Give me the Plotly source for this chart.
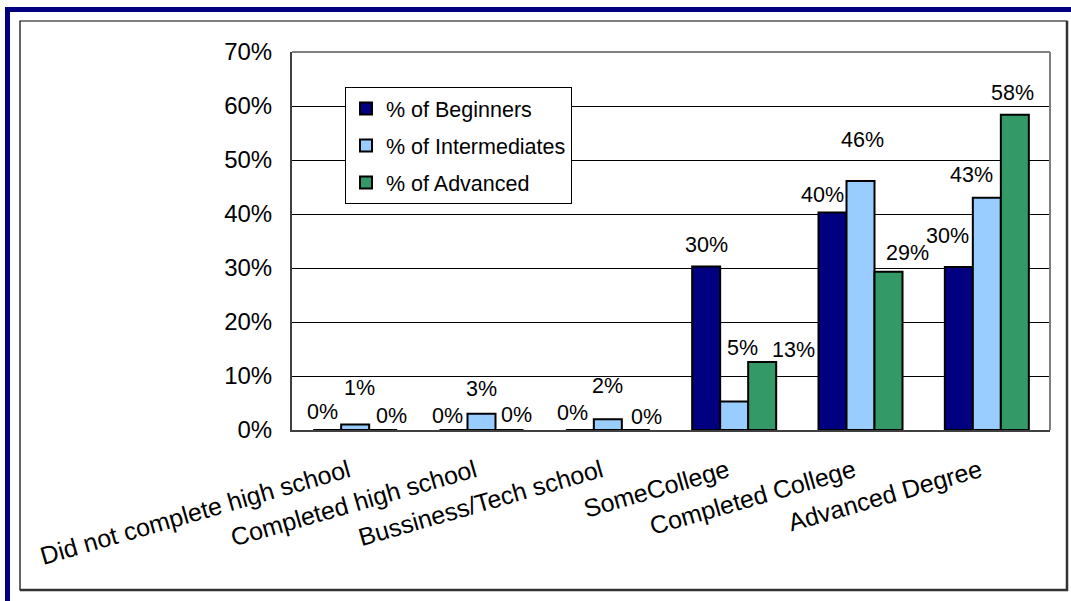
import plotly.graph_objects as go

categories = ["Did not complete high school", "Completed high school", "Bussiness/Tech school",
              "SomeCollege", "Completed College", "Advanced Degree"]
series_names = ["% of Beginners", "% of Intermediates", "% of Advanced"]
beginners = [0.0, 0.0, 0.0, 0.303, 0.403, 0.302]
intermediates = [0.01, 0.03, 0.02, 0.053, 0.461, 0.43]
advanced = [0.0, 0.0, 0.0, 0.126, 0.293, 0.584]
y_ticks = [0, 0.1, 0.2, 0.3, 0.4, 0.5, 0.6, 0.7]

# styling
colors = ["#000080", "#99CCFF", "#339966"]
FONT = "Arial, Liberation Sans, sans-serif"
W, H = 1071, 601
ML, MR, MT, MB = 292, 21, 52, 171
# data-label placement (pixel offsets, mimicking the original's label layout)
bar_px = [-28, 0, 28]
label_dx = [[-5, -6, -7, 0, -10, -11], [4, 0, 0, 8, 2, -15], [8, 7, 11, 31, 19, -2]]
label_dy = [[18, 14, 17, 21, 17, 31], [37, 25, 33, 53, 41, 23], [14, 15, 13, 12, 19, 22]]

pw = W - ML - MR
ph = H - MT - MB


def px_x(px):
    return (px - ML) / pw


def px_y(py):
    return (H - MB - py) / ph


fig = go.Figure()
all_series = [beginners, intermediates, advanced]
for i, (name, vals) in enumerate(zip(series_names, all_series)):
    fig.add_trace(go.Bar(
        x=categories, y=vals, name=name, legendgroup=name,
        marker=dict(color=colors[i], line=dict(color="#000000", width=2)),
        hoverinfo="skip",
    ))

annotations = []
for i, vals in enumerate(all_series):
    for j, (c, v) in enumerate(zip(categories, vals)):
        annotations.append(dict(
            x=c, y=v, xref="x", yref="y", text=f"{v:.0%}", showarrow=False,
            xshift=bar_px[i] + label_dx[i][j], yshift=label_dy[i][j],
            yanchor="middle", xanchor="center",
            font=dict(family=FONT, size=21.5, color="#000000"),
        ))

shapes = [
    # navy outer band (top & left)
    dict(type="rect", xref="paper", yref="paper", x0=px_x(5), x1=px_x(1071), y0=px_y(7), y1=px_y(12),
         fillcolor="#000080", line=dict(width=0), layer="above"),
    dict(type="rect", xref="paper", yref="paper", x0=px_x(5), x1=px_x(10), y0=px_y(7), y1=px_y(601),
         fillcolor="#000080", line=dict(width=0), layer="above"),
    # inner black frame
    dict(type="rect", xref="paper", yref="paper", x0=px_x(20), x1=px_x(1067), y0=px_y(21), y1=px_y(590),
         line=dict(color="#000000", width=1.2), layer="above"),
    dict(type="line", xref="paper", yref="paper", x0=px_x(1067), x1=px_x(1067), y0=px_y(21), y1=px_y(591),
         line=dict(color="#333333", width=2.5), layer="above"),
    dict(type="line", xref="paper", yref="paper", x0=px_x(20), x1=px_x(1068), y0=px_y(590), y1=px_y(590),
         line=dict(color="#333333", width=2.5), layer="above"),
    # plot-area border (top & right, gray)
    dict(type="line", xref="paper", yref="paper", x0=0, x1=1, y0=1, y1=1,
         line=dict(color="#808080", width=2), layer="above"),
    dict(type="line", xref="paper", yref="paper", x0=1, x1=1, y0=0, y1=1,
         line=dict(color="#808080", width=2), layer="above"),
]

fig.update_layout(
    width=W, height=H,
    margin=dict(l=ML, r=MR, t=MT, b=MB, pad=0),
    paper_bgcolor="#FFFFFF", plot_bgcolor="#FFFFFF",
    font=dict(family=FONT, color="#000000"),
    barmode="group", bargap=0.335, bargroupgap=0,
    hovermode=False,
    showlegend=True,
    legend=dict(
        x=px_x(345), y=px_y(87), xanchor="left", yanchor="top",
        bgcolor="#FFFFFF", bordercolor="#000000", borderwidth=1,
        font=dict(family=FONT, size=21.5, color="#000000"),
        traceorder="grouped", tracegroupgap=6,
    ),
    xaxis=dict(
        type="category", showgrid=False, showline=True, linecolor="#404040", linewidth=2,
        tickvals=categories, ticktext=[c + "\u00a0" for c in categories],
        tickangle=-16, tickfont=dict(family=FONT, size=25, color="#000000"),
        ticks="", ticklabelstandoff=13, fixedrange=True,
    ),
    yaxis=dict(
        range=[0, 0.7], tickvals=y_ticks, tickformat=".0%",
        showgrid=True, gridcolor="#000000", gridwidth=1,
        showline=True, linecolor="#404040", linewidth=2, zeroline=False,
        ticks="", ticklabelstandoff=13,
        tickfont=dict(family=FONT, size=24, color="#000000"), fixedrange=True,
    ),
    annotations=annotations,
    shapes=shapes,
)

fig.write_html(
    "out.html",
    config={"displayModeBar": False, "staticPlot": True},
    post_script="document.body.style.margin='0px';document.body.style.overflow='hidden';",
)
